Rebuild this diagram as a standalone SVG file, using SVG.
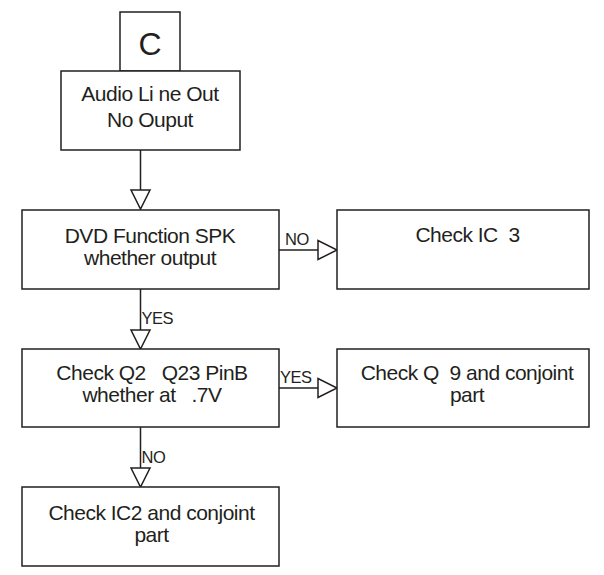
<svg xmlns="http://www.w3.org/2000/svg" width="604" height="575" viewBox="0 0 604 575">
<style>
.box{fill:#fff;stroke:#231f20;stroke-width:1.5}
.ln{stroke:#231f20;stroke-width:1.5;fill:none}
.ah{fill:#fff;stroke:#231f20;stroke-width:1.5;stroke-linejoin:miter}
.t{font-family:"Liberation Sans",Arial,sans-serif;font-size:21px;fill:#231f20;text-anchor:middle;letter-spacing:-0.5px}
.lb{font-family:"Liberation Sans",Arial,sans-serif;font-size:16.5px;fill:#231f20;letter-spacing:-0.5px}
</style>
<rect width="604" height="575" fill="#fff"/>
<g id="connectors">
<line class="ln" x1="140.5" y1="150" x2="140.5" y2="190"/>
<polygon class="ah" points="131,190 150,190 140.5,209"/>
<line class="ln" x1="279" y1="250" x2="318" y2="250"/>
<polygon class="ah" points="318,240.5 318,259.5 337,250"/>
<text class="lb" x="285" y="245">NO</text>
<line class="ln" x1="140.5" y1="289" x2="140.5" y2="330"/>
<polygon class="ah" points="131,330 150,330 140.5,349"/>
<text class="lb" x="141.5" y="324">YES</text>
<line class="ln" x1="279" y1="388" x2="318" y2="388"/>
<polygon class="ah" points="318,378.5 318,397.5 337,388"/>
<text class="lb" x="280" y="383">YES</text>
<line class="ln" x1="140.5" y1="427" x2="140.5" y2="468"/>
<polygon class="ah" points="131,468 150,468 140.5,487"/>
<text class="lb" x="141.5" y="463">NO</text>
</g>
<g id="nodeC">
<rect class="box" x="120" y="12" width="60" height="59"/>
<text class="t" x="150" y="55" style="font-size:32px;letter-spacing:0">C</text>
</g>
<g id="audio">
<rect class="box" x="61" y="71" width="179" height="79"/>
<text class="t" x="150" y="101" xml:space="preserve">Audio Li ne Out</text>
<text class="t" x="150" y="127">No Ouput</text>
</g>
<g id="dvd">
<rect class="box" x="22" y="210" width="257" height="79"/>
<text class="t" x="150" y="242.5">DVD Function SPK</text>
<text class="t" x="150" y="264.5">whether output</text>
</g>
<g id="checkIC3">
<rect class="box" x="337" y="210" width="252" height="79"/>
<text class="t" x="467.5" y="242" xml:space="preserve">Check IC  3</text>
</g>
<g id="checkQ2">
<rect class="box" x="22" y="349" width="257" height="78"/>
<text class="t" x="152" y="379.5" xml:space="preserve">Check Q2   Q23 PinB</text>
<text class="t" x="152" y="401.5" xml:space="preserve">whether at   .7V</text>
</g>
<g id="checkQ9">
<rect class="box" x="337" y="349" width="252" height="78"/>
<text class="t" x="467" y="379.5" xml:space="preserve">Check Q  9 and conjoint</text>
<text class="t" x="467" y="401.5">part</text>
</g>
<g id="checkIC2">
<rect class="box" x="22" y="487" width="257" height="79"/>
<text class="t" x="151.5" y="519.5">Check IC2 and conjoint</text>
<text class="t" x="151.5" y="541.5">part</text>
</g>
</svg>
